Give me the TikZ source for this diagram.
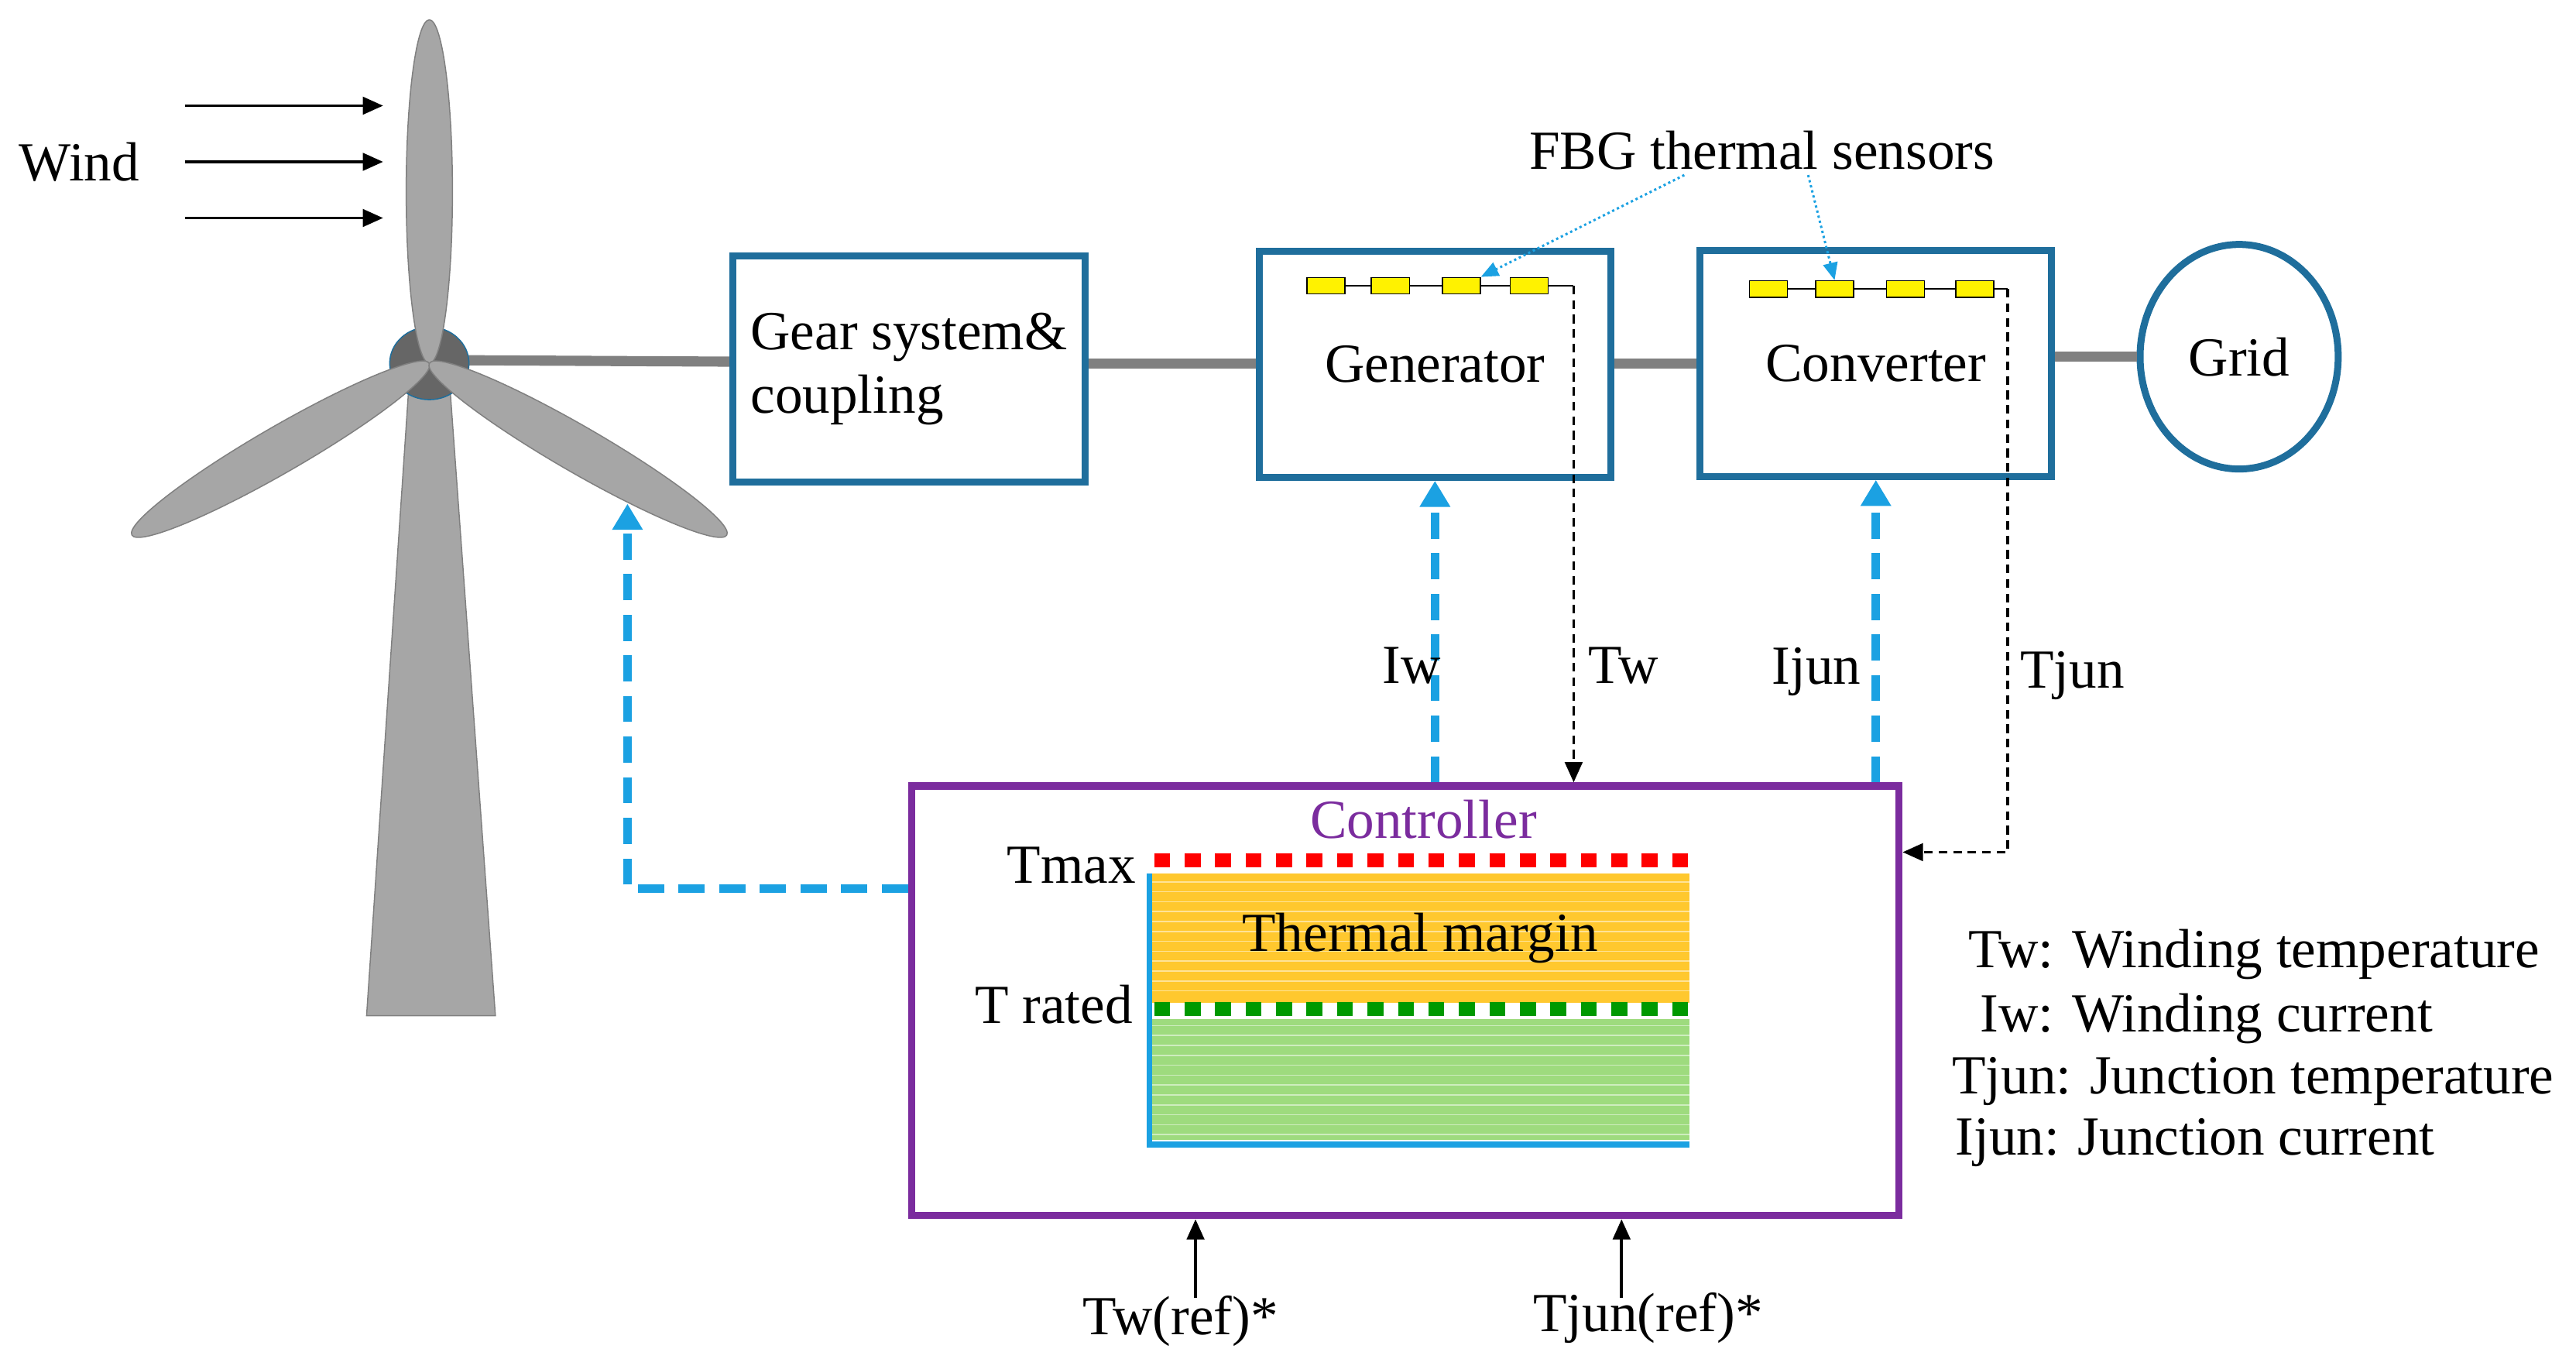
\documentclass[tikz,border=0pt]{standalone}
\usepackage{fontspec}
\setmainfont{Liberation Serif}
\usetikzlibrary{arrows.meta,shapes.geometric}
\definecolor{boxblue}{HTML}{1F6E9C}
\definecolor{ctlblue}{HTML}{1BA1E2}
\definecolor{ctlpurple}{HTML}{7B2C9E}
\definecolor{turbgray}{HTML}{A6A6A6}
\definecolor{margin}{HTML}{FFC82E}
\definecolor{safe}{HTML}{9EDB7E}
\tikzset{
  box/.style={draw=boxblue,line width=2.4pt,minimum width=4.26cm,minimum height=2.74cm},
  shaft/.style={draw=gray,line width=3.5pt},
  ctl/.style={draw=ctlblue,line width=3pt,dash pattern=on 9pt off 5pt,-{Triangle[length=9pt,width=10pt]}},
  meas/.style={draw=black,line width=1pt,dash pattern=on 3pt off 2pt,-{Triangle[length=7pt,width=6pt]}},
  sensor/.style={draw=black,fill=yellow,minimum width=0.46cm,minimum height=0.2cm,inner sep=0pt},
  lbl/.style={font=\fontsize{19}{22}\selectfont},
}
\begin{document}
\begin{tikzpicture}[x=0.02cm,y=-0.02cm]
\useasboundingbox (0,0) rectangle (1560,827);
% wind
\node[lbl] (wind) at (48,98) {Wind};
\foreach \y in {64,98,132}
  \draw[-{Triangle[length=7pt,width=6pt]},line width=1pt] (112,\y) -- (232,\y);
% turbine
\draw[shaft] (260,218) -- (444,219);
\draw[fill=turbgray,draw=gray] (248,228) -- (272,228) -- (300,615) -- (222,615) -- cycle;
\fill[gray!80!black] (260,220) ellipse (24 and 22);
\draw[boxblue] (260,220) ellipse (24 and 22);
\foreach \a in {90,210,-30}
  \draw[fill=turbgray,draw=gray,rotate around={\a:(260,220)}] (364,220) ellipse (104 and 14);
% boxes
\node[box,align=left,lbl] (gear) at (550.5,223.5) {Gear system\&\\coupling};
\node[box,lbl] (gen) at (869,220.5) {Generator};
\node[box,lbl] (conv) at (1136,220) {Converter};
\node[draw=boxblue,line width=2.4pt,ellipse,minimum width=2.4cm,minimum height=2.72cm,lbl] (grid) at (1356,216) {Grid};
\draw[shaft] (gear.east |- 0,220) -- (gen.west |- 0,220);
\draw[shaft] (gen.east |- 0,220) -- (conv.west |- 0,220);
\draw[shaft] (conv.east |- 0,216) -- (grid.west);
% sensors
\draw (792,173) -- (953,173);
\draw (1060,175) -- (1216,175);
\foreach \x [count=\i] in {803,842,885,926}
  \node[sensor] (gs\i) at (\x,173) {};
\foreach \x [count=\i] in {1071,1111,1154,1196}
  \node[sensor] (cs\i) at (\x,175) {};
\node[lbl] (fbg) at (1067,91) {FBG thermal sensors};
\draw[ctlblue,thick,densely dotted,-{Triangle[length=6pt,width=5pt]}] (1020,106) -- (gs3.north east);
\draw[ctlblue,thick,densely dotted,-{Triangle[length=6pt,width=5pt]}] (1095,106) -- (cs2.north);
% controller
\node[draw=ctlpurple,line width=2.6pt,minimum width=11.96cm,minimum height=5.2cm] (ctrl) at (851,606) {};
\node[text=ctlpurple,lbl] (ctrltxt) at (862,496) {Controller};
\node[fill=margin,minimum width=6.52cm,minimum height=1.56cm,inner sep=0pt] (marg) at (860,568) {};
\node[fill=safe,minimum width=6.52cm,minimum height=1.46cm,inner sep=0pt] (safe) at (860,653.5) {};
\foreach \y in {534,540,...,604} \draw[white,opacity=0.5,line width=0.4pt] (697,\y) -- (1023,\y);
\foreach \y in {621,627,...,688} \draw[white,opacity=0.5,line width=0.4pt] (697,\y) -- (1023,\y);
\node[lbl] at (marg) {Thermal margin};
\draw[red,line width=5pt,dash pattern=on 5.5pt off 5pt] (699,521) -- (1025,521);
\draw[green!60!black,line width=5pt,dash pattern=on 5.5pt off 5pt] (699,611) -- (1023,611);
\draw[ctlblue,line width=2pt] (696,529) -- (696,693) -- (1023,693);
\node[lbl,anchor=east] (tmax) at (694,524) {Tmax};
\node[lbl,anchor=east] (trated) at (692,608) {T rated};
% control and measurement paths
\draw[ctl] (ctrl.north -| gen) -- (gen.south);
\draw[ctl] (ctrl.north -| conv) -- (conv.south);
\coordinate (bend) at (380,538);
\draw[ctl] (ctrl.west |- bend) -- (bend) -- (380,305);
\draw[meas] (953,173) -- (ctrl.north -| 953,0);
\draw[meas] (1216,175) -- (1216,516) -- (ctrl.east |- 0,516);
\node[lbl] (iw) at (855,403) {Iw};
\node[lbl] (tw) at (983,403) {Tw};
\node[lbl] (ijun) at (1100,407) {Ijun};
\node[lbl] (tjun) at (1255,409) {Tjun};
% references
\node[lbl] (twref) at (715,800) {Tw(ref)*};
\node[lbl] (tjref) at (998,798) {Tjun(ref)*};
\draw[line width=1pt,-{Triangle[length=7pt,width=6pt]}] (724,786) -- (ctrl.south -| 724,0);
\draw[line width=1pt,-{Triangle[length=7pt,width=6pt]}] (982,786) -- (ctrl.south -| 982,0);
% legend
\node[lbl,anchor=west] (l1) at (1186,578) {Tw: Winding temperature};
\node[lbl,anchor=west] (l2) at (1193,617) {Iw: Winding current};
\node[lbl,anchor=west] (l3) at (1176,655) {Tjun: Junction temperature};
\node[lbl,anchor=west] (l4) at (1178,692) {Ijun: Junction current};
\end{tikzpicture}
\end{document}
